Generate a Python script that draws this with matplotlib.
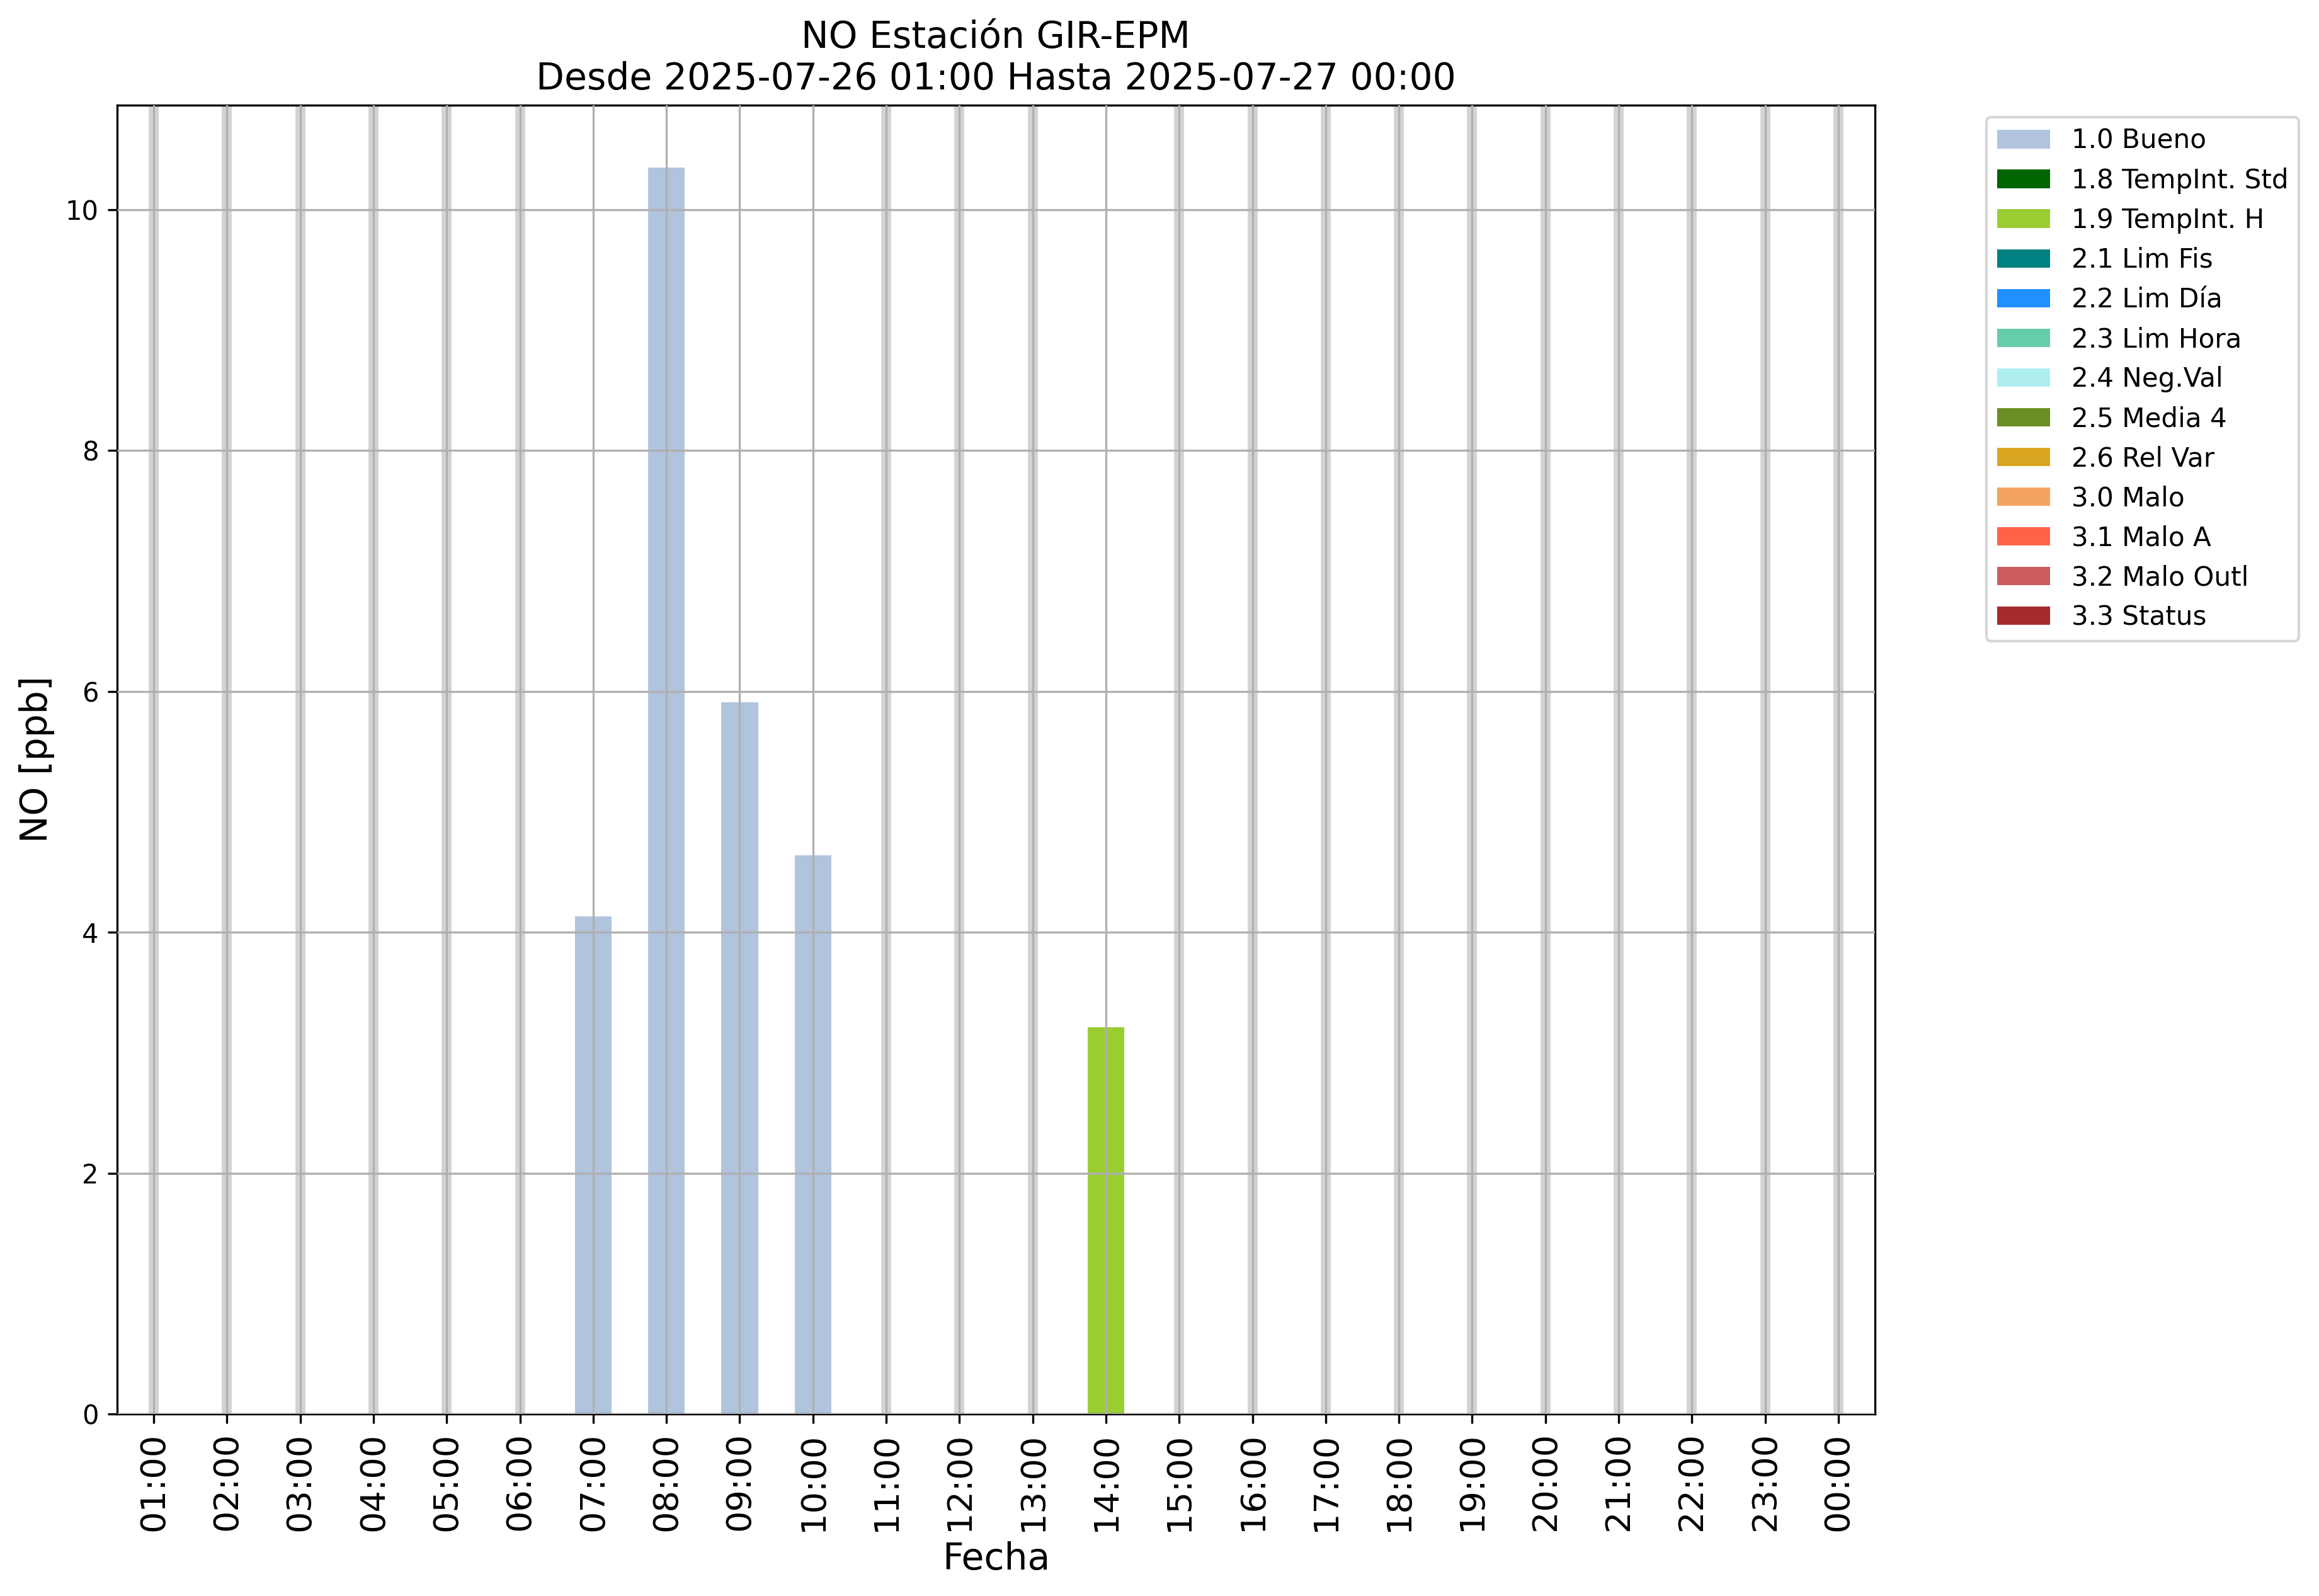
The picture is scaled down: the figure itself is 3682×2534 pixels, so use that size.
import numpy as np
import matplotlib
matplotlib.use("Agg")
import matplotlib.pyplot as plt
from matplotlib.patches import Patch

hours = ["01:00", "02:00", "03:00", "04:00", "05:00", "06:00", "07:00", "08:00",
         "09:00", "10:00", "11:00", "12:00", "13:00", "14:00", "15:00", "16:00",
         "17:00", "18:00", "19:00", "20:00", "21:00", "22:00", "23:00", "00:00"]
values = [None, None, None, None, None, None, 4.13, 10.35,
          5.91, 4.64, None, None, None, 3.21, None, None,
          None, None, None, None, None, None, None, None]
flags = [None, None, None, None, None, None, "1.0 Bueno", "1.0 Bueno",
         "1.0 Bueno", "1.0 Bueno", None, None, None, "1.9 TempInt. H", None, None,
         None, None, None, None, None, None, None, None]

flag_labels = ["1.0 Bueno", "1.8 TempInt. Std", "1.9 TempInt. H", "2.1 Lim Fis",
               "2.2 Lim Día", "2.3 Lim Hora", "2.4 Neg.Val", "2.5 Media 4",
               "2.6 Rel Var", "3.0 Malo", "3.1 Malo A", "3.2 Malo Outl", "3.3 Status"]
flag_colors = ["lightsteelblue", "darkgreen", "yellowgreen", "teal",
               "dodgerblue", "mediumaquamarine", "paleturquoise", "olivedrab",
               "goldenrod", "sandybrown", "tomato", "indianred", "brown"]
color_map = dict(zip(flag_labels, flag_colors))

W, H = 3682, 2534
dpi = 300
fig = plt.figure(figsize=(W / dpi, H / dpi), dpi=dpi)
ax = fig.add_axes([186 / W, 1 - 2245 / H, (2977 - 186) / W, (2245 - 167) / H])

x = np.arange(len(hours))
for i, (v, f) in enumerate(zip(values, flags)):
    if v is None:
        ax.axvline(i, color="lightgray", lw=3.8, zorder=0.5)
    else:
        ax.bar(i, v, width=0.5, color=color_map[f], zorder=1)

ax.set_xlim(-0.5, len(hours) - 0.5)
ax.set_xticks(x)
ax.set_xticklabels(hours, rotation=90, fontsize=13)
ax.tick_params(axis="y", labelsize=10)
ax.grid(True, color="#b0b0b0", lw=0.8, zorder=2)
ax.set_axisbelow(False)

ax.set_xlabel("Fecha", fontsize=14)
ax.set_ylabel("NO [ppb]", fontsize=14)
ax.set_title("NO Estación GIR-EPM\nDesde 2025-07-26 01:00 Hasta 2025-07-27 00:00", fontsize=14)

handles = [Patch(facecolor=c, label=l) for l, c in zip(flag_labels, flag_colors)]
ax.legend(handles=handles, loc="upper left", bbox_to_anchor=(3154 / W, 1 - 186 / H),
          bbox_transform=fig.transFigure, borderaxespad=0, fontsize=10.1)

fig.savefig("out.png", dpi=dpi)
